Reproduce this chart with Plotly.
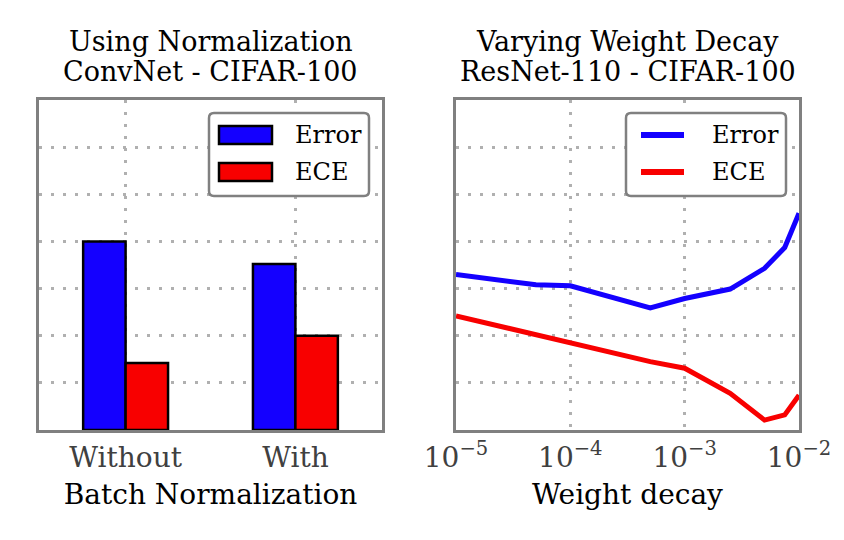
import plotly.graph_objects as go
from plotly.subplots import make_subplots

# left panel: batch normalization
bn_labels = ["Without", "With"]
bn_error = [40.0, 35.2]
bn_ece = [14.2, 20.0]

# right panel: weight decay sweep
wd = [1e-5, 5e-5, 1e-4, 5e-4, 1e-3, 2.5e-3, 5e-3, 7.5e-3, 1e-2]
wd_error = [33.0, 30.8, 30.6, 25.9, 27.9, 29.9, 34.3, 38.7, 46.0]
wd_ece = [24.2, 20.3, 18.4, 14.5, 13.1, 7.8, 2.1, 3.2, 7.4]
wd_ticks = [1e-5, 1e-4, 1e-3, 1e-2]
wd_ticktext = ["10<sup>−5</sup>", "10<sup>−4</sup>", "10<sup>−3</sup>", "10<sup>−2</sup>"]

BLUE = "#1400ff"
RED = "#f80000"
FONT = "DejaVu Serif"
W, H = 844, 540

fig = make_subplots(rows=1, cols=2)

fig.add_trace(go.Bar(x=bn_labels, y=bn_error, name="Error", marker_color=BLUE,
                     marker_line=dict(color="black", width=2.5),
                     width=0.25, offset=-0.25, showlegend=False), row=1, col=1)
fig.add_trace(go.Bar(x=bn_labels, y=bn_ece, name="ECE", marker_color=RED,
                     marker_line=dict(color="black", width=2.5),
                     width=0.25, offset=0, showlegend=False), row=1, col=1)

fig.add_trace(go.Scatter(x=wd, y=wd_error, mode="lines", name="Error",
                         line=dict(color=BLUE, width=5), showlegend=False), row=1, col=2)
fig.add_trace(go.Scatter(x=wd, y=wd_ece, mode="lines", name="ECE",
                         line=dict(color=RED, width=5), showlegend=False), row=1, col=2)

def px_x(p):
    return p / W

def px_y(p):
    return 1 - p / H

grid = dict(showgrid=True, gridcolor="#b0b0b0", gridwidth=2.5, griddash="3px,9px",
            showline=True, linecolor="#808080", linewidth=3, mirror=True,
            ticks="", zeroline=False, automargin=False)

fig.update_xaxes(domain=[px_x(39), px_x(382)], type="category", range=[-0.51, 1.51],
                 tickfont=dict(size=28, color="#404040"),
                 title=dict(text="Batch Normalization", font=dict(size=28, color="black"), standoff=12),
                 **grid, row=1, col=1)
fig.update_xaxes(domain=[px_x(456), px_x(799)], type="log", range=[-5, -2],
                 tickvals=wd_ticks, ticktext=wd_ticktext,
                 tickfont=dict(size=28, color="#404040"),
                 title=dict(text="Weight decay", font=dict(size=28, color="black"), standoff=12),
                 **grid, row=1, col=2)
fig.update_yaxes(domain=[px_y(430), px_y(100)], range=[0, 70], dtick=10,
                 showticklabels=False, **grid)

# titles
titles = [("Using Normalization", "ConvNet - CIFAR-100", 210.5),
          ("Varying Weight Decay", "ResNet-110 - CIFAR-100", 627.5)]
for l1, l2, cx in titles:
    for txt, cy in ((l1, 41), (l2, 71)):
        fig.add_annotation(text=txt, x=px_x(cx), y=px_y(cy), xref="paper", yref="paper",
                           showarrow=False, xanchor="center", yanchor="middle",
                           font=dict(size=27, color="black"))

# legends drawn by hand (wide swatches as in the reference)
def rounded_box(x0, y0, x1, y1, r=5):
    pts = [(x0 + r, y0), (x1 - r, y0), "Q", (x1, y0), (x1, y0 + r), (x1, y1 - r), "Q", (x1, y1),
           (x1 - r, y1), (x0 + r, y1), "Q", (x0, y1), (x0, y1 - r), (x0, y0 + r), "Q", (x0, y0),
           (x0 + r, y0)]
    path = "M {},{}".format(px_x(pts[0][0]), px_y(pts[0][1]))
    i = 1
    while i < len(pts):
        if pts[i] == "Q":
            c, e = pts[i + 1], pts[i + 2]
            path += " Q {},{} {},{}".format(px_x(c[0]), px_y(c[1]), px_x(e[0]), px_y(e[1]))
            i += 3
        else:
            path += " L {},{}".format(px_x(pts[i][0]), px_y(pts[i][1]))
            i += 1
    return path + " Z"

def legend_box(x0, kind):
    fig.add_shape(type="path", xref="paper", yref="paper",
                  path=rounded_box(x0, 113, x0 + 160, 196),
                  line=dict(color="#808080", width=2.5), fillcolor="white", layer="above")
    for name, color, cy in (("Error", BLUE, 135), ("ECE", RED, 172)):
        if kind == "bar":
            fig.add_shape(type="rect", xref="paper", yref="paper",
                          x0=px_x(x0 + 10), x1=px_x(x0 + 63), y0=px_y(cy - 9), y1=px_y(cy + 9),
                          line=dict(color="black", width=2.5), fillcolor=color, layer="above")
        else:
            fig.add_shape(type="line", xref="paper", yref="paper",
                          x0=px_x(x0 + 15), x1=px_x(x0 + 58), y0=px_y(cy), y1=px_y(cy),
                          line=dict(color=color, width=6), layer="above")
        fig.add_annotation(text=name, x=px_x(x0 + 84), y=px_y(cy), xref="paper", yref="paper",
                           showarrow=False, xanchor="left", yanchor="middle",
                           font=dict(size=24, color="black"))

legend_box(209, "bar")
legend_box(626, "line")

fig.update_layout(width=W, height=H, margin=dict(l=0, r=0, t=0, b=0),
                  paper_bgcolor="white", plot_bgcolor="white",
                  font=dict(family=FONT), barmode="overlay", showlegend=False)

fig.write_html("out.html", config={"displayModeBar": False},
               post_script="document.body.style.margin='0';")
